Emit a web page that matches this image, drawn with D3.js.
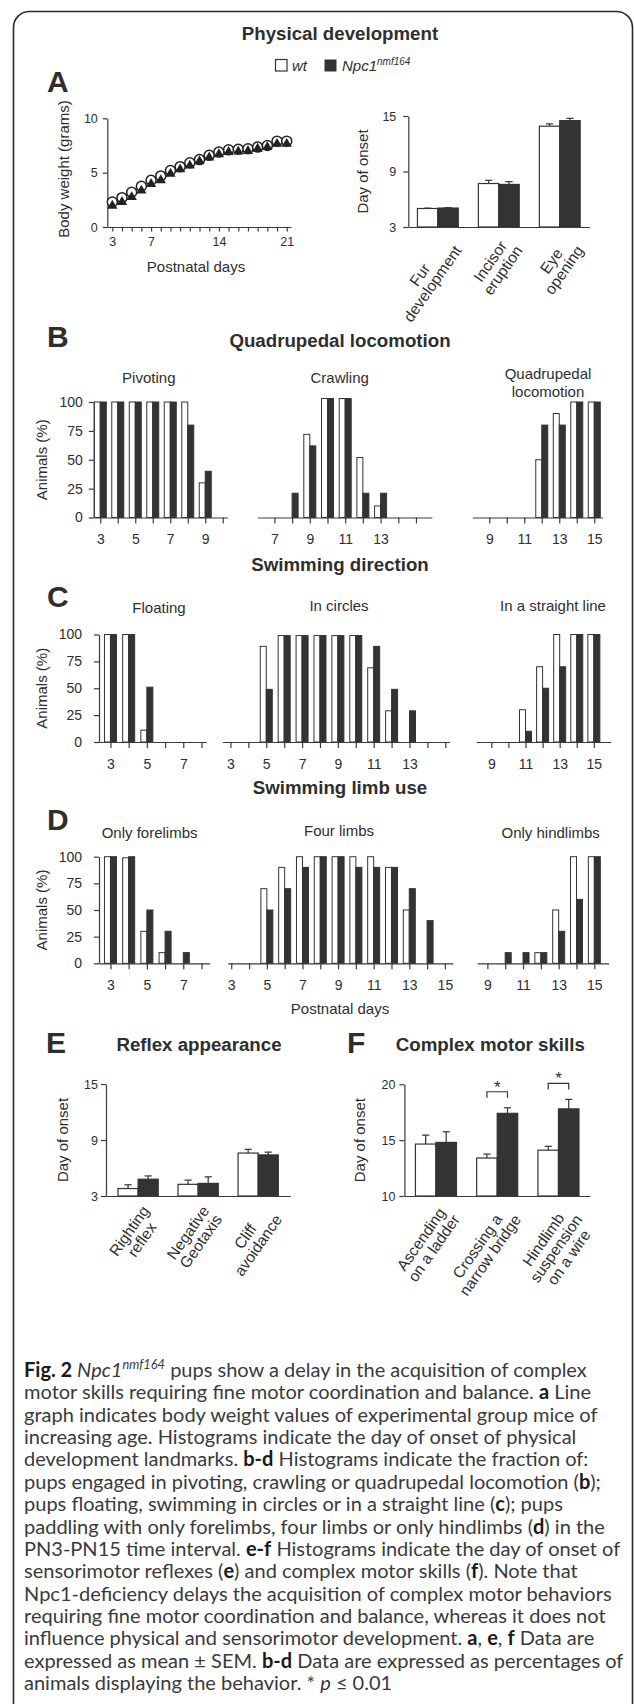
<!DOCTYPE html>
<html lang="en">
<head>
<meta charset="UTF-8" />
<title>Fig. 2 Npc1 nmf164 development</title>
<script src="https://d3js.org/d3.v7.min.js"></script>
<style>
  html, body { margin: 0; background: #fff; }
  svg { display: block; }
  text { font-family: "Liberation Sans", Arial, sans-serif; fill: #2e2e2e; }
  .ax path, .ax line { stroke: #3a3a3a; stroke-width: 1.2px; }
  .ax text { fill: #2e2e2e; }
  .cap text { font-family: Lato, "Open Sans", sans-serif; fill: #3a3a3a; }
</style>
</head>
<body>
<svg id="fig" width="634" height="1704"></svg>
<script>
// ---------- data ----------
// A: body weight (grams), postnatal days 3..21
const weightDays = d3.range(3, 22);
const weightWt  = [2.3, 2.7, 3.2, 3.75, 4.3, 4.7, 5.2, 5.55, 5.9, 6.2, 6.6, 6.9, 7.1, 7.15, 7.2, 7.35, 7.5, 7.9, 7.9];
const weightNpc = [1.95, 2.3, 2.75, 3.35, 3.95, 4.3, 4.9, 5.3, 5.65, 6.05, 6.4, 6.7, 6.9, 6.95, 7.0, 7.2, 7.35, 7.65, 7.65];

// A: physical landmarks, day of onset (mean, SEM)
const physCats   = [["Fur", "development"], ["Incisor", "eruption"], ["Eye", "opening"]];
const physWt     = [5.0, 7.7, 13.9];
const physWtSem  = [0.04, 0.35, 0.25];
const physNpc    = [5.05, 7.6, 14.5];
const physNpcSem = [0.04, 0.3, 0.25];

// B: quadrupedal locomotion (% animals)
const pivotDays = [3, 4, 5, 6, 7, 8, 9];
const pivotWt   = [100, 100, 100, 100, 100, 100, 30];
const pivotNpc  = [100, 100, 100, 100, 100, 80, 40];
const crawlDays = [8, 9, 10, 11, 12, 13];
const crawlWt   = [0, 72, 103, 103, 52, 10];
const crawlNpc  = [21, 62, 103, 103, 21, 21];
const quadDays  = [12, 13, 14, 15];
const quadWt    = [50, 90, 100, 100];
const quadNpc   = [80, 80, 100, 100];

// C: swimming direction (% animals)
const floatDays    = [3, 4, 5];
const floatWt      = [100, 100, 11];
const floatNpc     = [100, 100, 51];
const circleDays   = [5, 6, 7, 8, 9, 10, 11, 12, 13];
const circleWt     = [89, 99, 99, 99, 99, 99, 69, 29, 0];
const circleNpc    = [49, 99, 99, 99, 99, 99, 89, 49, 29];
const straightDays = [11, 12, 13, 14, 15];
const straightWt   = [30, 70, 100, 100, 100];
const straightNpc  = [10, 50, 70, 100, 100];

// D: swimming limb use (% animals)
const foreDays = [3, 4, 5, 6, 7];
const foreWt   = [100, 99, 30, 10, 0];
const foreNpc  = [100, 100, 50, 30, 10];
const fourDays = [5, 6, 7, 8, 9, 10, 11, 12, 13, 14];
const fourWt   = [70, 90, 100, 100, 100, 100, 100, 90, 50, 0];
const fourNpc  = [50, 70, 90, 100, 100, 90, 90, 90, 70, 40];
const hindDays = [10, 11, 12, 13, 14, 15];
const hindWt   = [0, 0, 10, 50, 100, 100];
const hindNpc  = [10, 10, 10, 30, 60, 100];

// E: reflex appearance, day of onset
const reflexCats   = [["Righting", "reflex"], ["Negative", "Geotaxis"], ["Cliff", "avoidance"]];
const reflexWt     = [3.8, 4.25, 7.6];
const reflexWtSem  = [0.4, 0.45, 0.4];
const reflexNpc    = [4.8, 4.35, 7.4];
const reflexNpcSem = [0.35, 0.7, 0.3];

// F: complex motor skills, day of onset
const motorCats   = [["Ascending", "on a ladder"], ["Crossing a", "narrow bridge"], ["Hindlimb", "suspension", "on a wire"]];
const motorWt     = [14.65, 13.4, 14.1];
const motorWtSem  = [0.8, 0.35, 0.35];
const motorNpc    = [14.8, 17.4, 17.8];
const motorNpcSem = [0.95, 0.5, 0.85];
const motorSignif = [false, true, true];

// ---------- drawing ----------
const INK = '#333';
const svg = d3.select('#fig');

// rounded frame, cut off on the right and at the bottom
svg.append('path')
  .attr('d', 'M13.5,1710V27.5A16,16 0 0 1 29.5,11.5H616.5A16,16 0 0 1 632.5,27.5V1710')
  .attr('fill', 'none').attr('stroke', '#2a2a2a').attr('stroke-width', 1.6);

function label(x, y, str, size, o = {}) {
  const t = svg.append('text').attr('x', x).attr('y', y).attr('font-size', size)
    .attr('text-anchor', o.anchor || 'middle').text(str);
  if (o.bold) t.attr('font-weight', 'bold');
  if (o.italic) t.attr('font-style', 'italic');
  if (o.rotate) t.attr('transform', `rotate(-90,${x},${y})`);
  return t;
}

// rotated multi-line category label; (ax, ay) is the top right corner of the block
function rotLabel(lines, ax, ay, fs, lh) {
  const a = -55 * Math.PI / 180;
  const u = [Math.cos(a), Math.sin(a)], dn = [-Math.sin(a), Math.cos(a)];
  const ts = lines.map(s => svg.append('text').attr('font-size', fs).attr('text-anchor', 'middle').text(s));
  const maxLen = d3.max(ts, t => t.node().getComputedTextLength());
  const n = lines.length;
  ts.forEach((t, i) => {
    const off = n * lh / 2 + (i - (n - 1) / 2) * lh;
    const cx = ax - u[0] * maxLen / 2 + dn[0] * off;
    const cy = ay - u[1] * maxLen / 2 + dn[1] * off;
    t.attr('x', cx).attr('y', cy).attr('dy', '0.35em').attr('transform', `rotate(-55,${cx},${cy})`);
  });
}

// ---- titles, letters, legend
label(340, 39.5, 'Physical development', 18.7, {bold: true});
label(47, 92, 'A', 30, {bold: true, anchor: 'start'});

svg.append('rect').attr('x', 275.5).attr('y', 59.5).attr('width', 11.5).attr('height', 11.5)
  .attr('fill', '#fff').attr('stroke', INK).attr('stroke-width', 1.2);
label(292, 71, 'wt', 15, {italic: true, anchor: 'start'});
svg.append('rect').attr('x', 324.5).attr('y', 59.5).attr('width', 12).attr('height', 12).attr('fill', INK);
const leg = label(342, 71, 'Npc1', 15, {italic: true, anchor: 'start'});
leg.append('tspan').attr('font-size', 10).attr('dy', -6).text('nmf164');

// ---- A: body weight line graph
const xW = d3.scaleLinear([2.484, 21.44], [107.3, 291]);
const yW = d3.scaleLinear([0, 10], [227, 118.3]);

svg.append('g').attr('class', 'ax').attr('transform', 'translate(0,227)')
  .call(d3.axisBottom(xW).tickValues(weightDays)
    .tickFormat(d => [3, 7, 14, 21].includes(d) ? d : '')
    .tickSize(4.5).tickSizeOuter(0).tickPadding(6))
  .attr('font-size', 12.5).attr('font-family', null);
svg.append('g').attr('class', 'ax').attr('transform', 'translate(107.3,0)')
  .call(d3.axisLeft(yW).tickValues([0, 5, 10]).tickSize(4.5).tickSizeOuter(0).tickPadding(5))
  .attr('font-size', 12.5).attr('font-family', null);

const line = d3.line().x((d, i) => xW(weightDays[i])).y(d => yW(d));
[weightWt, weightNpc].forEach(s => svg.append('path').attr('d', line(s))
  .attr('fill', 'none').attr('stroke', INK).attr('stroke-width', 1));
svg.append('g').selectAll('circle').data(weightWt).join('circle')
  .attr('cx', (d, i) => xW(weightDays[i])).attr('cy', d => yW(d)).attr('r', 5)
  .attr('fill', '#fff').attr('stroke', '#222').attr('stroke-width', 1.5);
svg.append('g').selectAll('path').data(weightNpc).join('path')
  .attr('d', d3.symbol(d3.symbolTriangle, 46))
  .attr('transform', (d, i) => `translate(${xW(weightDays[i])},${yW(d)})`)
  .attr('fill', '#222');

label(69, 169, 'Body weight (grams)', 15, {rotate: true});
label(196, 271.5, 'Postnatal days', 15);

// ---- grouped bar charts with SEM (A right, E, F)
function onsetChart(o) {
  const x = d3.scaleBand(o.cats.map(c => c.join(' ')), o.xr).paddingInner(0.33).paddingOuter(o.pOut);
  const y = d3.scaleLinear(o.dom, [o.y0, o.y1]);
  const bw = x.bandwidth() / 2;
  const rows = o.cats.map((c, i) => ({k: c.join(' '), lines: c, wt: o.wt[i], ws: o.ws[i], npc: o.npc[i], ns: o.ns[i], sig: o.sig ? o.sig[i] : false}));
  const g = svg.append('g');
  const bars = [];
  rows.forEach(r => {
    bars.push({x: x(r.k), v: r.wt, e: r.ws, fill: '#fff'});
    bars.push({x: x(r.k) + bw, v: r.npc, e: r.ns, fill: INK});
  });
  g.selectAll('line.err').data(bars).join('line').attr('class', 'err')
    .attr('x1', d => d.x + bw / 2).attr('x2', d => d.x + bw / 2)
    .attr('y1', d => y(d.v)).attr('y2', d => y(d.v + d.e)).attr('stroke', INK).attr('stroke-width', 1.2);
  g.selectAll('line.cap').data(bars).join('line').attr('class', 'cap')
    .attr('x1', d => d.x + bw / 2 - 3.6).attr('x2', d => d.x + bw / 2 + 3.6)
    .attr('y1', d => y(d.v + d.e)).attr('y2', d => y(d.v + d.e)).attr('stroke', INK).attr('stroke-width', 1.2);
  g.selectAll('rect').data(bars).join('rect')
    .attr('x', d => d.x).attr('width', bw).attr('y', d => y(d.v)).attr('height', d => o.y0 - y(d.v))
    .attr('fill', d => d.fill).attr('stroke', INK).attr('stroke-width', 1.2);

  svg.append('g').attr('class', 'ax').attr('transform', `translate(${o.xr[0]},0)`)
    .call(d3.axisLeft(y).tickValues(o.ticks).tickSize(5).tickSizeOuter(0).tickPadding(o.pad))
    .attr('font-size', 12.5).attr('font-family', null);
  svg.append('g').attr('class', 'ax').attr('transform', `translate(0,${o.y0})`)
    .call(d3.axisBottom(x).tickSize(0).tickSizeOuter(0).tickFormat(''));

  rows.forEach(r => {
    const gc = x(r.k) + bw;
    rotLabel(r.lines, gc + 1, o.y0 + 7, 15.5, 15.5);
    if (r.sig) {
      const by = y(r.npc + r.ns) - 16;
      const xa = x(r.k) + bw / 2, xb = x(r.k) + bw * 1.5;
      svg.append('path').attr('d', `M${xa},${by + 6}V${by}H${xb}V${by + 6}`)
        .attr('fill', 'none').attr('stroke', INK).attr('stroke-width', 1.2);
      label((xa + xb) / 2, by + 1, '*', 17);
    }
  });
  label(o.ylx, (o.y0 + o.y1) / 2, 'Day of onset', 15, {rotate: true});
}

onsetChart({cats: physCats, wt: physWt, ws: physWtSem, npc: physNpc, ns: physNpcSem,
  xr: [408.3, 589.3], pOut: 0.15, dom: [3, 15], y0: 227, y1: 116, ticks: [3, 9, 15], pad: 7, ylx: 368});

// ---- B-D histograms
const BW = 6;
function histogram(p, row) {
  const x = d3.scaleLinear(p.dom, p.range);
  const y = d3.scaleLinear([0, 100], [row.y0, row.y100]);
  const bars = [];
  p.days.forEach((d, i) => {
    bars.push({x: x(d) - BW, v: p.wt[i], fill: '#fff'});
    bars.push({x: x(d), v: p.npc[i], fill: INK});
  });
  svg.append('g').selectAll('rect').data(bars.filter(b => b.v > 0)).join('rect')
    .attr('x', d => d.x).attr('width', BW).attr('y', d => y(d.v)).attr('height', d => row.y0 - y(d.v))
    .attr('fill', d => d.fill).attr('stroke', INK).attr('stroke-width', 1);
  svg.append('g').attr('class', 'ax').attr('transform', `translate(0,${row.y0})`)
    .call(d3.axisBottom(x).tickValues(d3.range(p.ticks[0], p.ticks[1] + 1))
      .tickFormat(d => p.labels.includes(d) ? d : '').tickSize(6).tickSizeOuter(0).tickPadding(11))
    .attr('font-size', 14).attr('font-family', null);
  if (p.yAxis) {
    svg.append('g').attr('class', 'ax').attr('transform', `translate(${p.range[0]},0)`)
      .call(d3.axisLeft(y).tickValues([0, 25, 50, 75, 100]).tickSize(5).tickSizeOuter(0).tickPadding(row.yPad))
      .attr('font-size', 14).attr('font-family', null);
    label(46.5, (row.y0 + row.y100) / 2, 'Animals (%)', 15, {rotate: true});
  }
  p.title.forEach((s, i) => label(p.tx, p.ty + i * 17.4, s, 15));
}

const rowB = {y0: 517.5, y100: 402, yPad: 6};
const rowC = {y0: 742, y100: 634.5, yPad: 12};
const rowD = {y0: 963.3, y100: 856.7, yPad: 12};

label(340, 346.7, 'Quadrupedal locomotion', 18.7, {bold: true});
label(47, 347, 'B', 30, {bold: true, anchor: 'start'});
histogram({days: pivotDays, wt: pivotWt, npc: pivotNpc, dom: [2.63, 10.26], range: [93.8, 227.3],
  ticks: [3, 10], labels: [3, 5, 7, 9], yAxis: true, title: ['Pivoting'], tx: 148.8, ty: 383.3}, rowB);
histogram({days: crawlDays, wt: crawlWt, npc: crawlNpc, dom: [6.05, 15.9], range: [257.6, 431.9],
  ticks: [7, 15], labels: [7, 9, 11, 13], title: ['Crawling'], tx: 339.7, ty: 383.3}, rowB);
histogram({days: quadDays, wt: quadWt, npc: quadNpc, dom: [8.03, 15.47], range: [472.3, 602.5],
  ticks: [9, 15], labels: [9, 11, 13, 15], title: ['Quadrupedal', 'locomotion'], tx: 548, ty: 379.3}, rowB);

label(340, 570.7, 'Swimming direction', 18.7, {bold: true});
label(47, 606.7, 'C', 30, {bold: true, anchor: 'start'});
histogram({days: floatDays, wt: floatWt, npc: floatNpc, dom: [2.37, 8.26], range: [99, 206.2],
  ticks: [3, 8], labels: [3, 5, 7], yAxis: true, title: ['Floating'], tx: 159, ty: 613}, rowC);
histogram({days: circleDays, wt: circleWt, npc: circleNpc, dom: [2.55, 15.24], range: [222.4, 449.6],
  ticks: [3, 15], labels: [3, 5, 7, 9, 11, 13], title: ['In circles'], tx: 339, ty: 611}, rowC);
histogram({days: straightDays, wt: straightWt, npc: straightNpc, dom: [8.12, 15.98], range: [476.3, 610.6],
  ticks: [9, 15], labels: [9, 11, 13, 15], title: ['In a straight line'], tx: 553, ty: 611}, rowC);

label(340, 794.3, 'Swimming limb use', 18.7, {bold: true});
label(47, 830, 'D', 30, {bold: true, anchor: 'start'});
histogram({days: foreDays, wt: foreWt, npc: foreNpc, dom: [2.37, 8.44], range: [99, 209.5],
  ticks: [3, 8], labels: [3, 5, 7], yAxis: true, title: ['Only forelimbs'], tx: 149.6, ty: 838}, rowD);
histogram({days: fourDays, wt: fourWt, npc: fourNpc, dom: [2.8, 15.45], range: [227.7, 452.9],
  ticks: [3, 15], labels: [3, 5, 7, 9, 11, 13, 15], title: ['Four limbs'], tx: 339, ty: 836}, rowD);
histogram({days: hindDays, wt: hindWt, npc: hindNpc, dom: [8.43, 15.8], range: [477.2, 608.6],
  ticks: [9, 15], labels: [9, 11, 13, 15], title: ['Only hindlimbs'], tx: 550.7, ty: 838}, rowD);
label(340, 1014, 'Postnatal days', 15);

// ---- E, F
label(46, 1053, 'E', 30, {bold: true, anchor: 'start'});
label(199, 1051, 'Reflex appearance', 18.7, {bold: true});
label(347, 1053, 'F', 30, {bold: true, anchor: 'start'});
label(490.3, 1051, 'Complex motor skills', 18.7, {bold: true});

onsetChart({cats: reflexCats, wt: reflexWt, ws: reflexWtSem, npc: reflexNpc, ns: reflexNpcSem,
  xr: [106, 290.3], pOut: 0.2, dom: [3, 15], y0: 1196, y1: 1084, ticks: [3, 9, 15], pad: 3, ylx: 68});
onsetChart({cats: motorCats, wt: motorWt, ws: motorWtSem, npc: motorNpc, ns: motorNpcSem, sig: motorSignif,
  xr: [404.4, 590], pOut: 0.18, dom: [10, 20], y0: 1196, y1: 1084.3, ticks: [10, 15, 20], pad: 4, ylx: 365});

// ---- caption
const capLines = [
  [["Fig. 2 ", "b"], ["Npc1", "i"], ["nmf164", "sup"], [" pups show a delay in the acquisition of complex", ""]],
  [["motor skills requiring fine motor coordination and balance. ", ""], ["a", "b"], [" Line", ""]],
  [["graph indicates body weight values of experimental group mice of", ""]],
  [["increasing age. Histograms indicate the day of onset of physical", ""]],
  [["development landmarks. ", ""], ["b-d", "b"], [" Histograms indicate the fraction of:", ""]],
  [["pups engaged in pivoting, crawling or quadrupedal locomotion (", ""], ["b", "b"], [");", ""]],
  [["pups floating, swimming in circles or in a straight line (", ""], ["c", "b"], ["); pups", ""]],
  [["paddling with only forelimbs, four limbs or only hindlimbs (", ""], ["d", "b"], [") in the", ""]],
  [["PN3-PN15 time interval. ", ""], ["e-f", "b"], [" Histograms indicate the day of onset of", ""]],
  [["sensorimotor reflexes (", ""], ["e", "b"], [") and complex motor skills (", ""], ["f", "b"], ["). Note that", ""]],
  [["Npc1-deficiency delays the acquisition of complex motor behaviors", ""]],
  [["requiring fine motor coordination and balance, whereas it does not", ""]],
  [["influence physical and sensorimotor development. ", ""], ["a", "b"], [", ", ""], ["e", "b"], [", ", ""], ["f", "b"], [" Data are", ""]],
  [["expressed as mean \u00b1 SEM. ", ""], ["b-d", "b"], [" Data are expressed as percentages of", ""]],
  [["animals displaying the behavior. * ", ""], ["p", "i"], [" \u2264 0.01", ""]]
];
const cap = svg.append('g').attr('class', 'cap');
function capText(segs, y, fs) {
  const t = cap.append('text').attr('x', 24).attr('y', y).attr('font-size', fs);
  let up = false;
  segs.forEach(([s, st]) => {
    const ts = t.append('tspan').text(s);
    if (st === 'b') ts.attr('font-weight', 'bold').style('fill', '#1a1a1a');
    if (st === 'i') ts.attr('font-style', 'italic');
    if (st === 'sup') { ts.attr('font-style', 'italic').attr('font-size', fs * 0.64).attr('dy', -fs * 0.38); up = true; }
    else if (up) { ts.attr('dy', fs * 0.38); up = false; }
  });
  return t;
}
// fit the widest caption line to the text block width
const probes = capLines.map(segs => capText(segs, -50, 17));
const widest = d3.max(probes, t => t.node().getComputedTextLength());
probes.forEach(t => t.remove());
const capSize = 17 * 600 / widest;
capLines.forEach((segs, i) => capText(segs, 1377 + i * 22.36, capSize));
</script>
</body>
</html>
